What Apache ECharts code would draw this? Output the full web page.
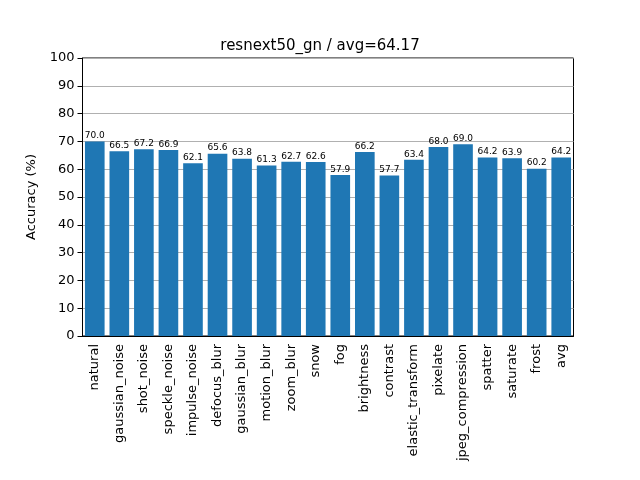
<!DOCTYPE html>
<html>
<head>
<meta charset="utf-8">
<script src="https://cdn.jsdelivr.net/npm/echarts@6/dist/echarts.min.js"></script>
<style>html,body{margin:0;padding:0;background:#fff}#chart{width:640px;height:480px}</style>
</head>
<body>
<div id="chart"></div>
<script>
const categories = ["natural", "gaussian_noise", "shot_noise", "speckle_noise", "impulse_noise",
  "defocus_blur", "gaussian_blur", "motion_blur", "zoom_blur", "snow", "fog", "brightness",
  "contrast", "elastic_transform", "pixelate", "jpeg_compression", "spatter", "saturate", "frost", "avg"];
const accuracy = [70.0, 66.5, 67.2, 66.9, 62.1, 65.6, 63.8, 61.3, 62.7, 62.6, 57.9, 66.2,
  57.7, 63.4, 68.0, 69.0, 64.2, 63.9, 60.2, 64.2];
const yTicks = { min: 0, max: 100, interval: 10 };

const font = "DejaVu Sans";
const chart = echarts.init(document.getElementById("chart"));
chart.setOption({
  animation: false,
  title: {
    text: "resnext50_gn / avg=64.17",
    left: "center",
    top: 34,
    textStyle: { fontFamily: font, fontSize: 15, fontWeight: "normal", color: "#000" }
  },
  // inset so that bar positions match matplotlib's 0.6-unit margins
  grid: { left: 82.5, right: 66.5, top: 58, bottom: 144, show: true, borderColor: "#000", borderWidth: 1 },
  xAxis: {
    type: "category",
    data: categories,
    axisLine: { lineStyle: { color: "#000" } },
    axisTick: { alignWithLabel: true, lineStyle: { color: "#000" } },
    axisLabel: { rotate: 90, interval: 0, fontFamily: font, fontSize: 13, color: "#000" }
  },
  yAxis: {
    type: "value",
    min: yTicks.min, max: yTicks.max, interval: yTicks.interval,
    name: "Accuracy (%)",
    nameLocation: "middle",
    nameGap: 44,
    nameTextStyle: { fontFamily: font, fontSize: 13, color: "#000" },
    axisLine: { show: true, lineStyle: { color: "#000" } },
    axisTick: { show: true, lineStyle: { color: "#000" } },
    axisLabel: { fontFamily: font, fontSize: 13, color: "#000" },
    splitLine: { show: true, lineStyle: { color: "#b0b0b0" } }
  },
  series: [{
    type: "bar",
    data: accuracy,
    barWidth: "80%",
    itemStyle: { color: "#1f77b4" },
    label: {
      show: true, position: "top", distance: 1,
      formatter: p => p.value.toFixed(1),
      fontFamily: font, fontSize: 9, color: "#000"
    }
  }]
});
</script>
</body>
</html>
